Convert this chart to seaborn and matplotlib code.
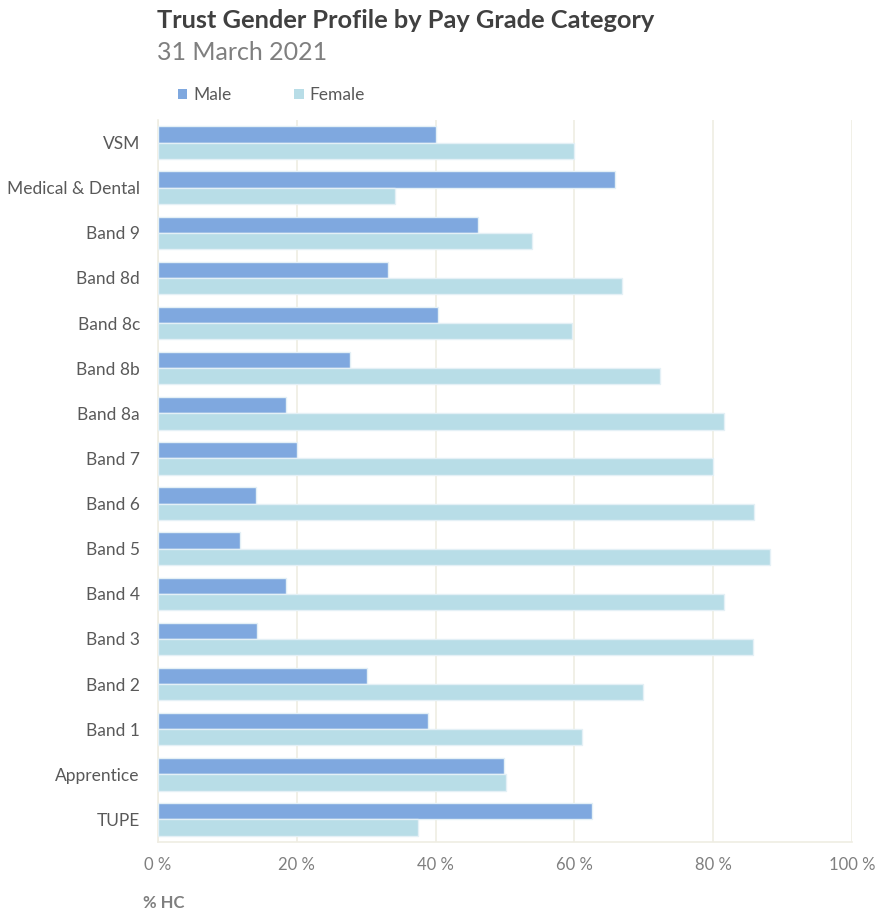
import matplotlib
matplotlib.use("Agg")
import matplotlib.pyplot as plt
import seaborn as sns
import pandas as pd
import numpy as np
from matplotlib.patches import Patch
from matplotlib.ticker import FixedLocator

categories = ["VSM", "Medical & Dental", "Band 9", "Band 8d", "Band 8c", "Band 8b",
              "Band 8a", "Band 7", "Band 6", "Band 5", "Band 4", "Band 3",
              "Band 2", "Band 1", "Apprentice", "TUPE"]
male = [40.0, 65.8, 46.1, 33.2, 40.4, 27.6, 18.4, 20.0, 14.1, 11.8, 18.5, 14.3, 30.1, 38.9, 49.9, 62.5]
female = [60.0, 34.2, 53.9, 66.8, 59.6, 72.4, 81.6, 80.0, 85.9, 88.2, 81.5, 85.7, 69.9, 61.1, 50.1, 37.5]
series = ["Male", "Female"]
xticks = [0, 20, 40, 60, 80, 100]
xticklabels = ["0 %", "20 %", "40 %", "60 %", "80 %", "100 %"]

df = pd.DataFrame({
    "Category": categories * 2,
    "Value": male + female,
    "Gender": ["Male"] * len(categories) + ["Female"] * len(categories),
})

sns.set_style("white")
plt.rcParams["font.family"] = ["Lato", "DejaVu Sans"]

colors = {"Male": "#7FA8DF", "Female": "#B8DDE7"}
grid_c = "#EFEDE3"

fig = plt.figure(figsize=(8.75, 9.13), dpi=100)
ax = fig.add_axes([158 / 875, 1 - 842 / 913, (852 - 158) / 875, (842 - 120) / 913])

sns.barplot(data=df, y="Category", x="Value", hue="Gender", order=categories,
            hue_order=series, palette=colors, width=0.72, orient="h", saturation=1,
            edgecolor="#E4F0F6", linewidth=1.0, ax=ax, legend=False, zorder=3)

ax.set_xlim(0, 100)
ax.set_ylim(len(categories) - 0.5, -0.5)
ax.set_xticks(xticks)
ax.set_xticklabels(xticklabels, color="#7F7F7F", fontsize=12)
ax.tick_params(axis="x", length=0, pad=11)
ax.tick_params(axis="y", which="major", length=0, pad=13, labelsize=12.5, labelcolor="#595959")
ax.yaxis.set_minor_locator(FixedLocator(np.arange(-0.5, len(categories), 1.0)))
ax.tick_params(axis="y", which="minor", length=6, color=grid_c, width=1)
ax.grid(axis="x", color=grid_c, linewidth=1.2, zorder=0)
ax.set_axisbelow(True)
for s in ["top", "right"]:
    ax.spines[s].set_visible(False)
ax.spines["left"].set_color(grid_c)
ax.spines["bottom"].set_color(grid_c)
ax.spines["left"].set_linewidth(1.2)
ax.spines["bottom"].set_linewidth(1.2)
ax.set_ylabel("")
ax.set_xlabel("")

fig.text(157 / 875, 1 - 20 / 913, "Trust Gender Profile by Pay Grade Category",
         fontsize=18.3, fontweight="bold", color="#404040", va="center", ha="left")
fig.text(157 / 875, 1 - 52 / 913, "31 March 2021",
         fontsize=18, color="#7F7F7F", va="center", ha="left")
fig.text(143 / 875, 1 - 903 / 913, "% HC",
         fontsize=12, fontweight="bold", color="#7F7F7F", va="center", ha="left")

handles = [Patch(facecolor=colors[s], edgecolor="none") for s in series]
leg = fig.legend(handles, series, loc="center left",
                 bbox_to_anchor=(162 / 875, 1 - 95 / 913), ncol=2, frameon=False,
                 handlelength=0.55, handleheight=0.55, handletextpad=0.35,
                 columnspacing=3.6, fontsize=12.5)
for t in leg.get_texts():
    t.set_color("#595959")

fig.savefig("out.png", dpi=100)
